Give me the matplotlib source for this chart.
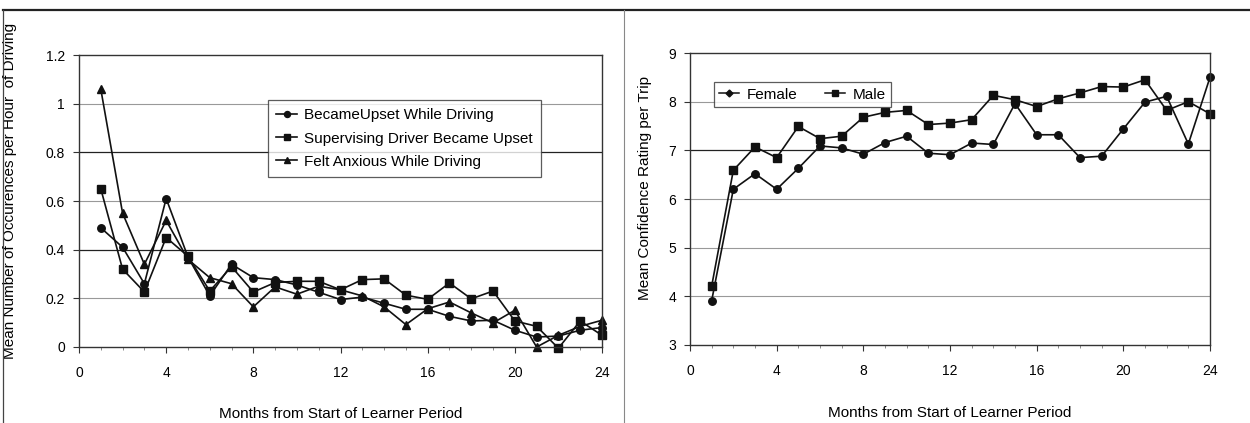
import matplotlib
matplotlib.use("Agg")
import matplotlib.pyplot as plt
from matplotlib.lines import Line2D

plt.rcParams['font.family'] = ['Liberation Sans', 'DejaVu Sans']

months = list(range(1, 25))

became_upset = [0.49, 0.41, 0.26, 0.61, 0.37, 0.21, 0.34, 0.285, 0.277, 0.255, 0.225, 0.195,
                0.205, 0.18, 0.155, 0.155, 0.126, 0.107, 0.11, 0.069, 0.041, 0.045, 0.069, 0.08]
supervisor_upset = [0.65, 0.32, 0.226, 0.45, 0.373, 0.23, 0.33, 0.226, 0.265, 0.27, 0.27, 0.235,
                    0.277, 0.28, 0.213, 0.196, 0.263, 0.198, 0.23, 0.107, 0.085, -0.005, 0.107, 0.048]
felt_anxious = [1.06, 0.55, 0.34, 0.52, 0.36, 0.285, 0.26, 0.165, 0.247, 0.217, 0.25, 0.235,
                0.21, 0.165, 0.092, 0.157, 0.185, 0.14, 0.099, 0.151, 0.0, 0.048, 0.085, 0.11]

female = [3.91, 6.2, 6.52, 6.2, 6.63, 7.09, 7.05, 6.92, 7.16, 7.29, 6.94, 6.91,
          7.15, 7.12, 7.96, 7.32, 7.32, 6.85, 6.88, 7.44, 7.99, 8.11, 7.13, 8.50]
male = [4.21, 6.59, 7.07, 6.85, 7.49, 7.24, 7.29, 7.68, 7.78, 7.82, 7.53, 7.56,
        7.63, 8.13, 8.04, 7.9, 8.06, 8.18, 8.31, 8.30, 8.45, 7.82, 8.0, 7.75]

left_labels = ["BecameUpset While Driving", "Supervising Driver Became Upset", "Felt Anxious While Driving"]
right_labels = ["Female", "Male"]
x_ticks = [0, 4, 8, 12, 16, 20, 24]

W, H = 1250, 423
fig = plt.figure(figsize=(W / 100, H / 100), dpi=100)

def px_axes(x0, y_top, x1, y_bot):
    return fig.add_axes([x0 / W, 1 - y_bot / H, (x1 - x0) / W, (y_bot - y_top) / H])

fs_tick = 10
fs_title = 11
fs_leg = 11
lc = '#111111'

# frame lines
fig.add_artist(Line2D([3 / W, 1], [1 - 10 / H, 1 - 10 / H], color='#222222', lw=1.6, transform=fig.transFigure))
fig.add_artist(Line2D([3 / W, 3 / W], [0, 1 - 10 / H], color='#444444', lw=0.9, transform=fig.transFigure))
fig.add_artist(Line2D([624 / W, 624 / W], [0, 1 - 10 / H], color='#888888', lw=0.8, transform=fig.transFigure))

def style_axes(ax, yticks, dark_levels):
    for s in ax.spines.values():
        s.set_color('#333333')
        s.set_linewidth(1.0)
    ax.set_xlim(0, 24)
    ax.set_xticks(x_ticks)
    ax.set_xticks(months, minor=True)
    ax.set_yticks(yticks)
    ax.tick_params(axis='both', direction='out', length=4, width=0.8, labelsize=fs_tick, color='#333333')
    ax.tick_params(axis='x', pad=10)
    ax.tick_params(axis='y', pad=6)
    ax.tick_params(axis='x', which='minor', length=2, width=0.6, color='#777777')
    for v in yticks[1:-1]:
        c = '#222222' if v in dark_levels else '#999999'
        ax.axhline(v, color=c, lw=0.9 if v in dark_levels else 0.8, zorder=0)

# Left panel
ax1 = px_axes(79, 55, 602, 347)
ax1.set_ylim(0, 1.2)
style_axes(ax1, [0, 0.2, 0.4, 0.6, 0.8, 1.0, 1.2], [0.4, 0.8])
ax1.set_yticklabels(['0', '0.2', '0.4', '0.6', '0.8', '1', '1.2'])
ax1.plot(months, became_upset, color=lc, lw=1.2, marker='o', ms=5.4, label=left_labels[0], clip_on=False)
ax1.plot(months, supervisor_upset, color=lc, lw=1.2, marker='s', ms=5.8, label=left_labels[1], clip_on=False)
ax1.plot(months, felt_anxious, color=lc, lw=1.2, marker='^', ms=5.8, label=left_labels[2], clip_on=False)
ax1.set_xlabel("Months from Start of Learner Period", fontsize=fs_title)
ax1.set_ylabel("Mean Number of Occurences per Hour  of Driving", fontsize=fs_title)
ax1.xaxis.set_label_coords(0.5, -0.205)
ax1.yaxis.set_label_coords(-0.118, 0.535)
leg1 = ax1.legend(loc='upper left', bbox_to_anchor=(0.3614, 0.846), fontsize=fs_leg, frameon=True,
                  fancybox=False, edgecolor='#333333', handlelength=1.35, handletextpad=0.45,
                  borderpad=0.55, labelspacing=0.6, borderaxespad=0, markerscale=0.8)
leg1.get_frame().set_linewidth(0.9)

# Right panel
ax2 = px_axes(690, 53, 1210, 345)
ax2.set_ylim(3, 9)
style_axes(ax2, [3, 4, 5, 6, 7, 8, 9], [7])
ax2.plot(months, female, color=lc, lw=1.2, marker='o', ms=5.4, clip_on=False)
ax2.plot(months, male, color=lc, lw=1.2, marker='s', ms=6.0, clip_on=False)
ax2.set_xlabel("Months from Start of Learner Period", fontsize=fs_title)
ax2.set_ylabel("Mean Confidence Rating per Trip", fontsize=fs_title)
ax2.xaxis.set_label_coords(0.5, -0.21)
ax2.yaxis.set_label_coords(-0.073, 0.537)
handles = [Line2D([], [], color=lc, lw=1.1, marker='D', ms=3.5),
           Line2D([], [], color=lc, lw=1.1, marker='s', ms=5)]
leg2 = ax2.legend(handles, right_labels, loc='upper left', bbox_to_anchor=(0.046, 0.9), ncol=2,
                  fontsize=fs_leg, frameon=True, fancybox=False, edgecolor='#333333', handlelength=1.3,
                  handletextpad=0.5, borderpad=0.35, columnspacing=1.8, borderaxespad=0)
leg2.get_frame().set_linewidth(0.9)

fig.savefig("out.png", dpi=100)
